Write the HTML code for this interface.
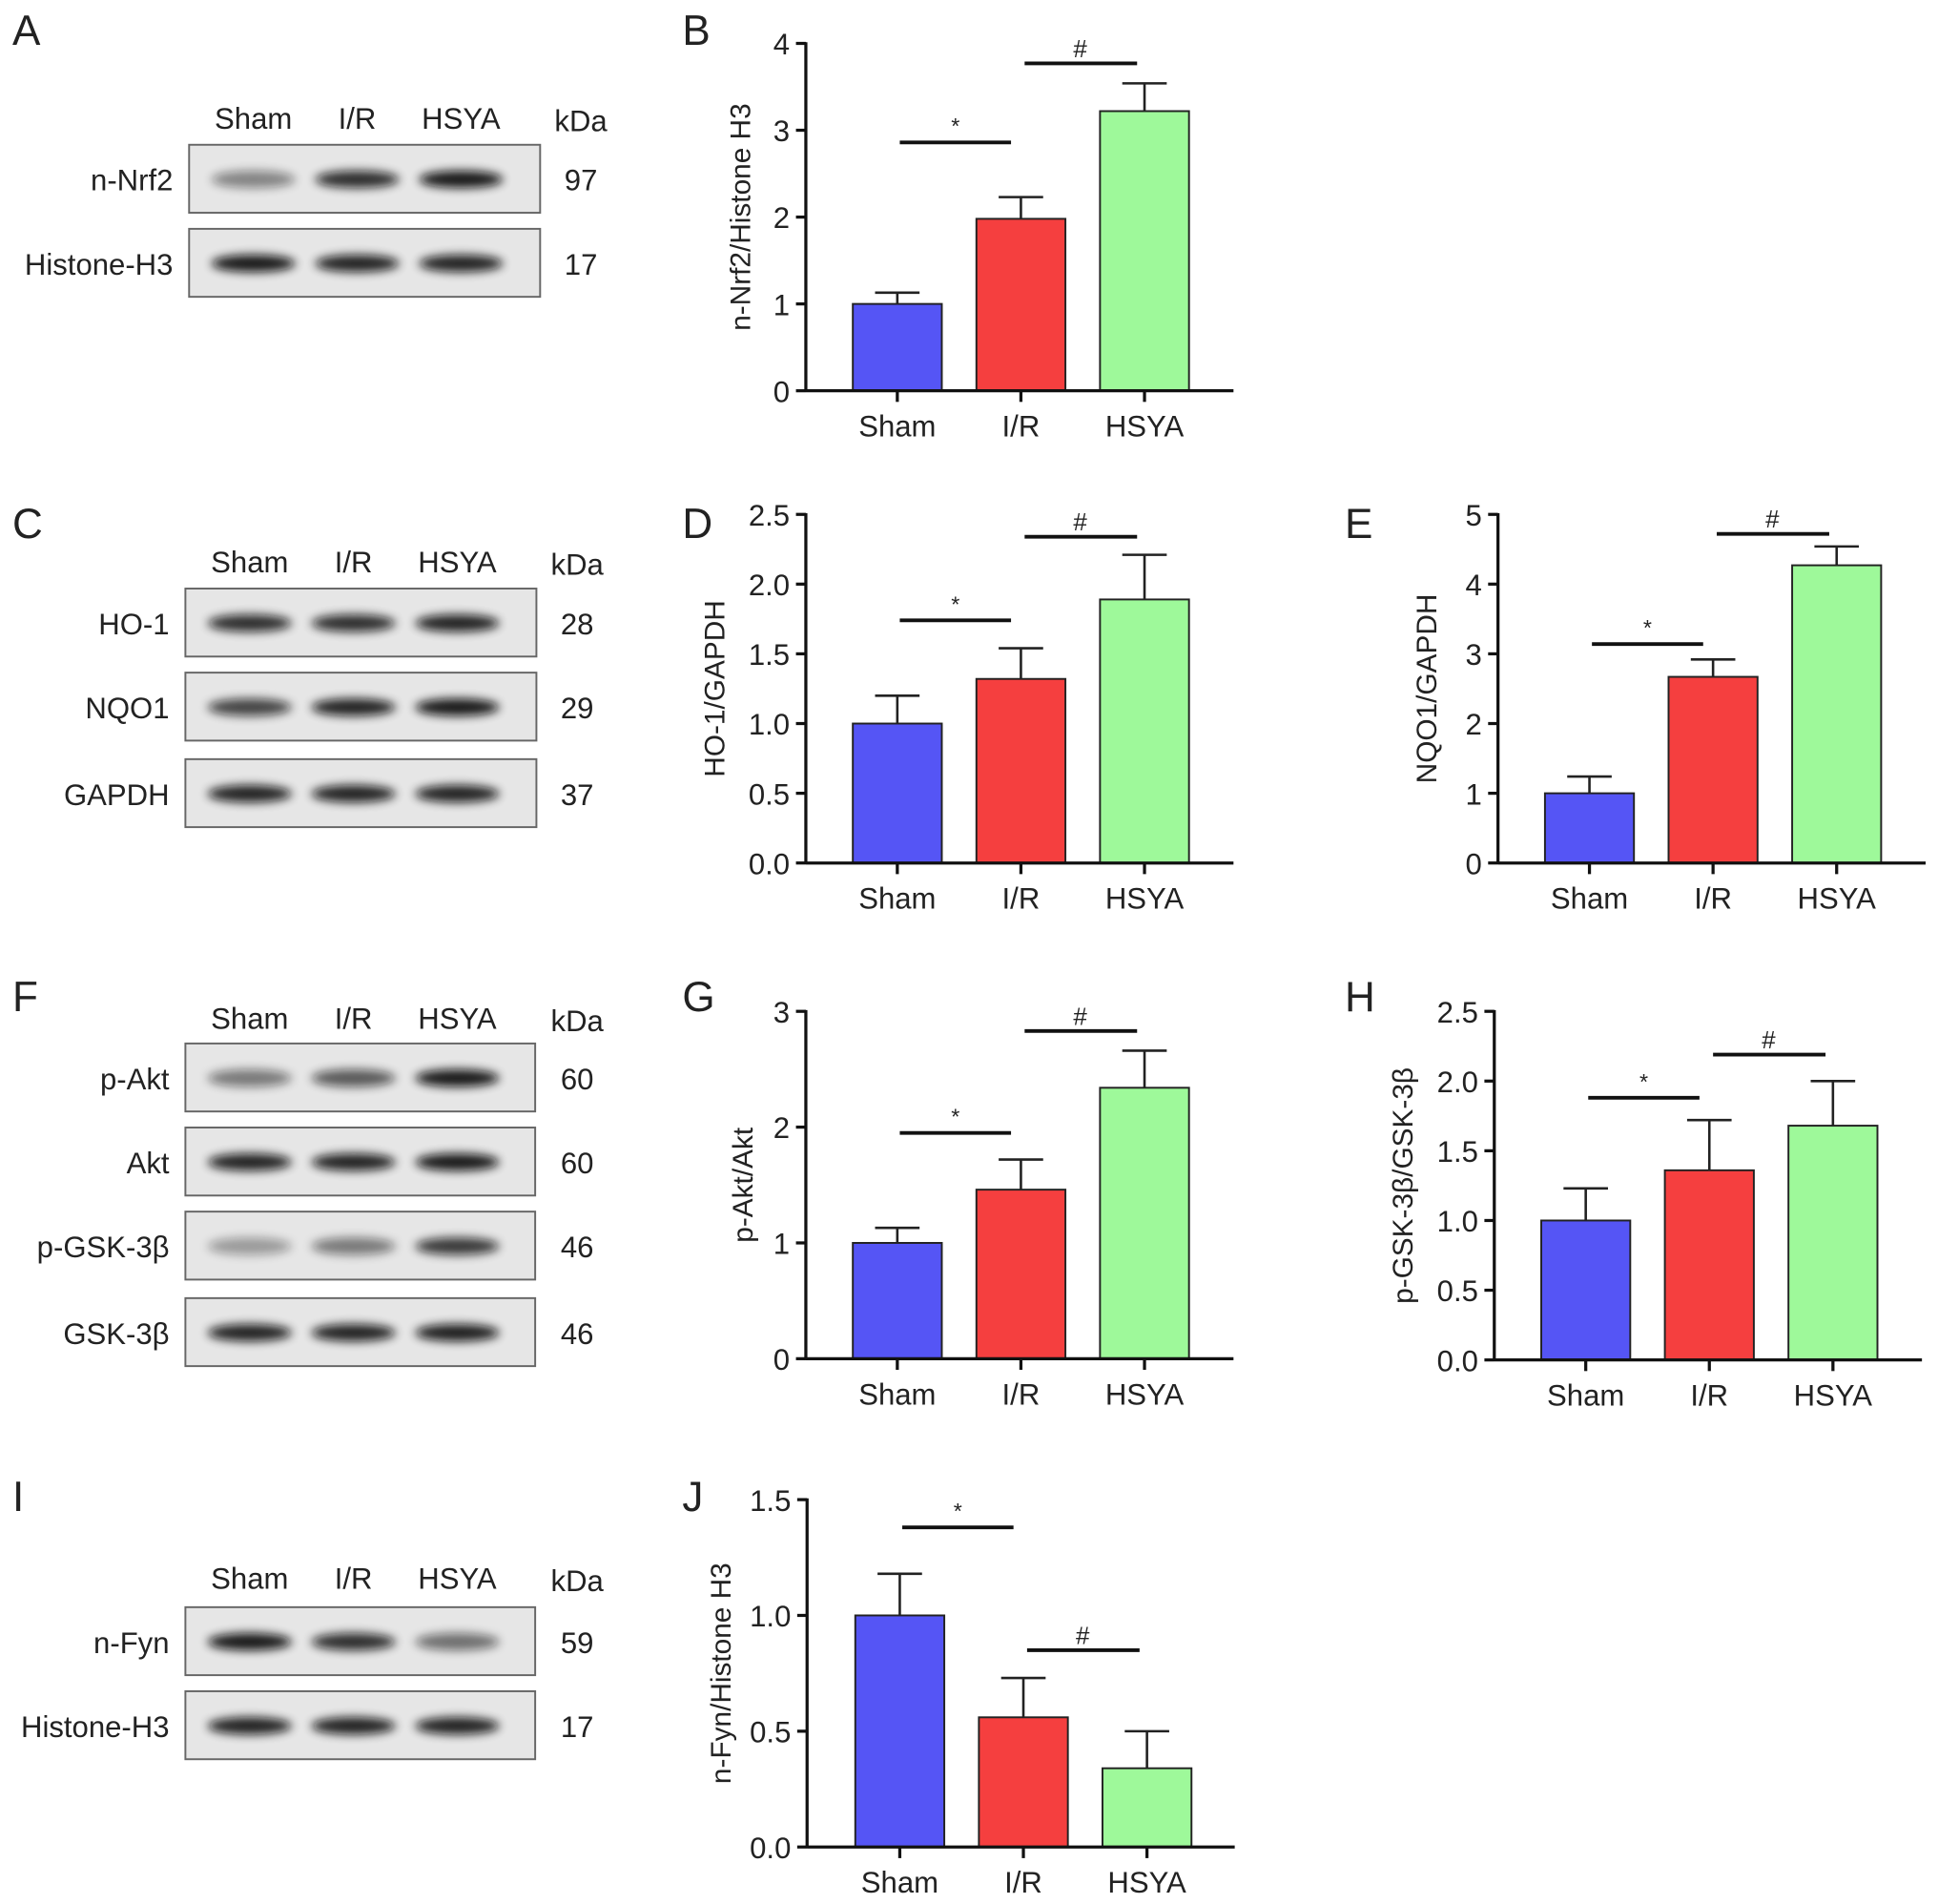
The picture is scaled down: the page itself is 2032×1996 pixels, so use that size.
<!DOCTYPE html>
<html><head><meta charset="utf-8"><style>
html,body{margin:0;padding:0;background:#fff;}
svg{display:block;}
text{font-family:"Liberation Sans",Arial,sans-serif;fill:#222;}
</style></head><body>
<svg id="fig" width="2032" height="1996" viewBox="0 0 1568 1540" xmlns="http://www.w3.org/2000/svg">
<defs><filter id="blur" x="-30%" y="-100%" width="160%" height="300%"><feGaussianBlur stdDeviation="4"/></filter></defs>
<g id="root"></g>
</svg>
<script>
const categories = ["Sham", "I/R", "HSYA"];
const colors = ["#5555f5", "#f53f3f", "#9ef99a"];
const bMeans = [1.0, 1.98, 3.22]; const bErr = [0.13, 0.25, 0.32];
const dMeans = [1.0, 1.32, 1.89]; const dErr = [0.2, 0.22, 0.32];
const eMeans = [1.0, 2.67, 4.27]; const eErr = [0.24, 0.25, 0.27];
const gMeans = [1.0, 1.46, 2.34]; const gErr = [0.13, 0.26, 0.32];
const hMeans = [1.0, 1.36, 1.68]; const hErr = [0.23, 0.36, 0.32];
const jMeans = [1.0, 0.56, 0.34]; const jErr = [0.18, 0.17, 0.16];
const bTicks = ["0","1","2","3","4"];
const dTicks = ["0.0","0.5","1.0","1.5","2.0","2.5"];
const eTicks = ["0","1","2","3","4","5"];
const gTicks = ["0","1","2","3"];
const hTicks = ["0.0","0.5","1.0","1.5","2.0","2.5"];
const jTicks = ["0.0","0.5","1.0","1.5"];
const bSig = [2.86, 3.77]; const dSig = [1.74, 2.34]; const eSig = [3.14, 4.72];
const gSig = [1.95, 2.83]; const hSig = [1.88, 2.19]; const jSig = [1.38, 0.85];
// blot band intensities (0-1) per lane
const nrf2Bands = [0.45, 0.85, 0.95]; const h3aBands = [0.95, 0.9, 0.9];
const ho1Bands = [0.85, 0.85, 0.9]; const nqo1Bands = [0.75, 0.9, 0.95]; const gapdhBands = [0.9, 0.9, 0.9];
const pAktBands = [0.5, 0.65, 0.95]; const aktBands = [0.9, 0.9, 0.95];
const pGskBands = [0.35, 0.5, 0.8]; const gskBands = [0.9, 0.9, 0.92];
const fynBands = [0.95, 0.85, 0.55]; const h3bBands = [0.9, 0.9, 0.9];

const NS = "http://www.w3.org/2000/svg";
const root = document.getElementById("root");
function mk(tag, attrs, parent, txt){
  const e = document.createElementNS(NS, tag);
  for (const k in attrs) e.setAttribute(k, attrs[k]);
  if (txt !== undefined) e.textContent = txt;
  (parent || root).appendChild(e); return e;
}
function label(x, y, s, letter){
  const t = mk("text", {x:x, y:y, "font-size":34});
  t.textContent = letter;
  
  
}

function chart(id, ax, y0, yTop, maxV, ticks, means, errs, sig, ytitle, barOffset, titleOff){
  const g = mk("g", {});
  
  
  const ys = v => y0 - (v / maxV) * (y0 - yTop);
  const xs = i => ax + 74 + barOffset + i * 100;
  ticks.forEach((t, i) => {
    const v = maxV * i / (ticks.length - 1), y = ys(v);
    mk("line", {x1:ax-8, x2:ax, y1:y, y2:y, stroke:"#111", "stroke-width":2.5}, g);
    const tx = mk("text", {x:ax-13, y:y+9, "text-anchor":"end", "font-size":24}, g, t);
    
    
  });
  means.forEach((m, i) => {
    const cx = xs(i);
    const top = ys(m), et = ys(m + errs[i]);
    mk("line", {x1:cx, x2:cx, y1:et, y2:top, stroke:"#222", "stroke-width":2}, g);
    mk("line", {x1:cx-18, x2:cx+18, y1:et, y2:et, stroke:"#222", "stroke-width":2}, g);
    const r = mk("rect", {x:cx-36, y:top, width:72, height:y0-top, fill:colors[i], stroke:"#222", "stroke-width":1.5}, g);
    
    
    mk("line", {x1:cx, x2:cx, y1:y0, y2:y0+9, stroke:"#111", "stroke-width":2.5}, g);
    const tl = mk("text", {x:cx, y:y0+37, "text-anchor":"middle", "font-size":24}, g, categories[i]);
    
    
  });
  mk("line", {x1:ax, x2:ax, y1:yTop-1, y2:y0+1, stroke:"#111", "stroke-width":2.5}, g);
  mk("line", {x1:ax, x2:ax+346, y1:y0, y2:y0, stroke:"#111", "stroke-width":2.5}, g);
  const sy1 = ys(sig[0]), sy2 = ys(sig[1]);
  const x1 = xs(0), x2 = xs(1), x3 = xs(2);
  mk("line", {x1:x1+2, x2:x2-8, y1:sy1, y2:sy1, stroke:"#111", "stroke-width":3}, g);
  mk("text", {x:(x1+x2)/2-3, y:sy1-7, "text-anchor":"middle", "font-size":18}, g, "*");
  mk("line", {x1:x2+3, x2:x3-6, y1:sy2, y2:sy2, stroke:"#111", "stroke-width":3}, g);
  mk("text", {x:(x2+x3)/2-2, y:sy2-5, "text-anchor":"middle", "font-size":20}, g, "#");
  const yt = mk("text", {x:0, y:0, "text-anchor":"middle", "font-size":23,
    transform:"translate(" + (ax-titleOff) + "," + ((y0+yTop)/2) + ") rotate(-90)"}, g, ytitle);
  
  
}

function blot(id, x, w, headerY, rows){
  const g = mk("g", {});
  
  
  const lanes = [x + 52, x + 136, x + 220];
  ["Sham","I/R","HSYA"].forEach((c, i) => mk("text", {x:lanes[i], y:headerY, "text-anchor":"middle", "font-size":24}, g, c));
  mk("text", {x:x+317, y:headerY+2, "text-anchor":"middle", "font-size":24}, g, "kDa");
  rows.forEach(r => {
    const [name, y, kda, bands] = r;
    mk("rect", {x:x, y:y, width:w, height:55, fill:"#e6e6e6", stroke:"#666", "stroke-width":1.5}, g);
    bands.forEach((b, i) => {
      const e = mk("ellipse", {cx:lanes[i], cy:y+28, rx:34, ry:7, fill:"#111", opacity:b, filter:"url(#blur)"}, g);
      
      
    });
    mk("text", {x:x-13, y:y+37, "text-anchor":"end", "font-size":24}, g, name);
    mk("text", {x:x+317, y:y+37, "text-anchor":"middle", "font-size":24}, g, kda);
  });
}

label(10, 36, "a", "A"); label(552, 36, "b", "B");
label(10, 435, "c", "C"); label(552, 435, "d", "D"); label(1088, 435, "e", "E");
label(10, 818, "f", "F"); label(552, 818, "g", "G"); label(1088, 818, "h", "H");
label(10, 1222, "i", "I"); label(552, 1222, "j", "J");

blot("a", 153, 284, 104, [["n-Nrf2", 117, "97", nrf2Bands], ["Histone-H3", 185, "17", h3aBands]]);
blot("c", 150, 284, 463, [["HO-1", 476, "28", ho1Bands], ["NQO1", 544, "29", nqo1Bands], ["GAPDH", 614, "37", gapdhBands]]);
blot("f", 150, 283, 832, [["p-Akt", 844, "60", pAktBands], ["Akt", 912, "60", aktBands], ["p-GSK-3\u03b2", 980, "46", pGskBands], ["GSK-3\u03b2", 1050, "46", gskBands]]);
blot("i", 150, 283, 1285, [["n-Fyn", 1300, "59", fynBands], ["Histone-H3", 1368, "17", h3bBands]]);

chart("b", 652, 316, 35, 4, bTicks, bMeans, bErr, bSig, "n-Nrf2/Histone H3", 0, 45);
chart("d", 652, 698, 416, 2.5, dTicks, dMeans, dErr, dSig, "HO-1/GAPDH", 0, 66);
chart("e", 1212, 698, 416, 5, eTicks, eMeans, eErr, eSig, "NQO1/GAPDH", 0, 50);
chart("g", 652, 1099, 818, 3, gTicks, gMeans, gErr, gSig, "p-Akt/Akt", 0, 43);
chart("h", 1209, 1100, 818, 2.5, hTicks, hMeans, hErr, hSig, "p-GSK-3\u03b2/GSK-3\u03b2", 0, 66);
chart("j", 653, 1494, 1213, 1.5, jTicks, jMeans, jErr, jSig, "n-Fyn/Histone H3", 1, 62);
</script>
</body></html>
